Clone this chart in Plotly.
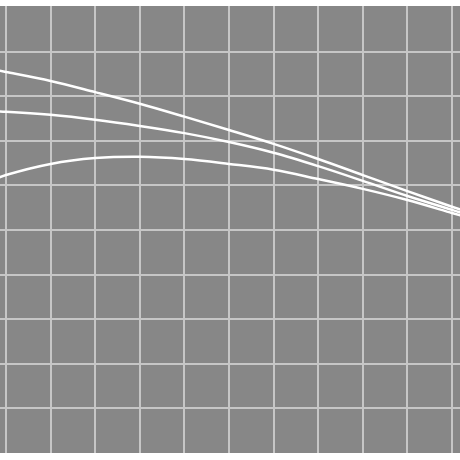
import plotly.graph_objects as go

# Values (axes are hidden there)
x_vals = [-0.25, 0, 1, 2, 3, 4, 5, 6, 7, 8, 9, 10, 10.25]
upper = [8.59, 8.54, 8.34, 8.09, 7.83, 7.54, 7.24, 6.93, 6.59, 6.23, 5.87, 5.52, 5.44]
middle = [7.66, 7.65, 7.58, 7.47, 7.33, 7.17, 6.97, 6.73, 6.43, 6.10, 5.76, 5.45, 5.37]
lower = [6.14, 6.23, 6.48, 6.61, 6.64, 6.59, 6.48, 6.35, 6.14, 5.92, 5.67, 5.38, 5.31]

fig = go.Figure()

for series in [upper, middle, lower]:
    fig.add_trace(go.Scatter(
        x=x_vals, y=series,
        mode='lines',
        line=dict(color='white', width=2.5, shape='spline'),
        hoverinfo='skip',
        showlegend=False
    ))

axis_style = dict(
    showgrid=True, gridcolor='#c6c6c6', gridwidth=1.8,
    zeroline=False, showticklabels=False, ticks='',
    dtick=1, tick0=0, showline=False
)

fig.update_layout(
    width=460, height=460,
    margin=dict(l=0, r=0, t=6, b=7),
    paper_bgcolor='white',
    plot_bgcolor='#878787',
    xaxis=dict(range=[-0.1345, 10.179], **axis_style),
    yaxis=dict(range=[0, 10.02], **axis_style),
)

# drop the page's default 8px body margin so the figure sits at the corner
fig.write_html(
    "out.html",
    config={'displayModeBar': False},
    post_script="document.body.style.margin='0';document.body.style.overflow='hidden';"
)
